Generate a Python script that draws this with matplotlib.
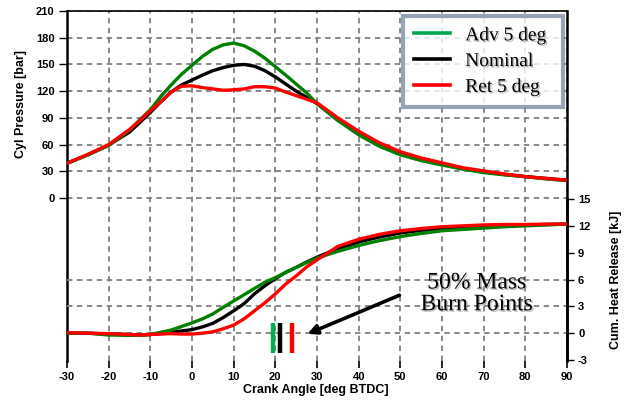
import matplotlib
matplotlib.use("Agg")
import matplotlib.pyplot as plt
import matplotlib.patheffects as pe
from matplotlib.lines import Line2D

# crank angle grid [deg BTDC]
crank = [-30, -25, -20, -15, -12.5, -10, -7.5, -5, -2.5, 0, 2.5, 5, 7.5, 10, 12.5,
         15, 17.5, 20, 22.5, 25, 27.5, 30, 35, 40, 45, 50, 55, 60, 65, 70, 75, 80, 85, 90]

# cylinder pressure [bar]
p_adv = [39, 48.5, 59, 76, 88, 99, 114, 127, 139, 149, 159, 167, 172, 174, 171,
         165, 157, 147.5, 138, 128, 118, 106, 87, 71, 58, 48.5, 42, 37, 32.5, 28.5, 26, 24, 21.5, 19.5]
p_nom = [39, 48.5, 59.5, 74, 85, 96, 108, 119, 127, 132.5, 138, 143, 146.5, 149, 150,
         148, 143, 136, 128, 120, 113, 106, 88, 73, 60, 50, 43.5, 38.5, 33, 29.5, 26.5, 24, 22, 20]
p_ret = [39, 49, 60, 77, 87, 98, 108, 119, 125.5, 126, 124, 122.5, 121, 121.5, 122.5,
         125, 125, 123.5, 119, 115, 111, 107, 90, 75, 62, 52, 45, 39.5, 34, 30.5, 27, 24, 22, 20]

# cumulative heat release [kJ]
q_adv = [0, 0, -0.2, -0.25, -0.2, -0.15, 0.1, 0.35, 0.75, 1.15, 1.6, 2.15, 2.9, 3.6, 4.3,
         5.0, 5.7, 6.2, 6.8, 7.35, 7.9, 8.4, 9.15, 9.8, 10.35, 10.8, 11.15, 11.45, 11.6, 11.75, 11.9, 12.0, 12.1, 12.2]
q_nom = [0, 0, -0.1, -0.15, -0.2, -0.15, 0, 0.1, 0.25, 0.4, 0.7, 1.1, 1.75, 2.5, 3.3,
         4.4, 5.3, 6.1, 6.8, 7.35, 7.95, 8.5, 9.45, 10.2, 10.75, 11.2, 11.5, 11.7, 11.85, 12.0, 12.05, 12.1, 12.15, 12.2]
q_ret = [0.05, 0, -0.05, -0.15, -0.2, -0.15, -0.1, -0.05, -0.1, -0.1, 0, 0.15, 0.5, 0.9, 1.6,
         2.5, 3.4, 4.4, 5.5, 6.4, 7.4, 8.2, 9.7, 10.5, 11.05, 11.45, 11.7, 11.9, 12.0, 12.1, 12.15, 12.15, 12.2, 12.2]

# 50% mass burn points [deg]
mb50 = [19.5, 21.1, 24.0]
mb50_colors = ['#00b050', 'black', '#ff0000']

labels = ['Adv 5 deg', 'Nominal', 'Ret 5 deg']
x_ticks = list(range(-30, 91, 10))
p_ticks = list(range(0, 211, 30))
q_ticks = [-3, 0, 3, 6, 9, 12, 15]

green = '#008000'
grid_kw = dict(color='#808080', linestyle=(0, (3, 2.5)), linewidth=1.3)
tick_font = dict(family='Liberation Sans', weight='bold', size=8)
label_font = dict(family='Liberation Sans', weight='bold', size=9)
shadow = [pe.withSimplePatchShadow(offset=(1, -1), shadow_rgbFace='#999999', alpha=0.7)]

fig = plt.figure(figsize=(6.3, 4.0), dpi=100)
ax = fig.add_axes([67 / 630, 1 - 361 / 400, 500 / 630, 350 / 400])
ax2 = ax.twinx()

# pressure part
ax.plot(crank, p_nom, color='black', lw=2.4, zorder=3)
ax.plot(crank, p_adv, color=green, lw=2.4, zorder=3)
ax.plot(crank, p_ret, color='#ff0000', lw=2.4, zorder=3)
ax.set_xlim(-30, 90)
ax.set_ylim(-183, 210)
ax.set_xticks(x_ticks)
ax.set_yticks(p_ticks)
ax.set_xticklabels([str(t) for t in x_ticks], **tick_font)
ax.set_yticklabels([str(t) for t in p_ticks], **tick_font)
ax.grid(True, **grid_kw)
ax.set_axisbelow(True)
ax.tick_params(axis='y', direction='out', length=6, width=1, pad=3)
ax.tick_params(axis='x', direction='out', length=5, width=1.2, pad=3)
ax.spines['bottom'].set_visible(False)
ax.spines['left'].set_linewidth(1.8)
ax.spines['right'].set_linewidth(1.8)
ax.spines['top'].set_linewidth(1.2)

# heat release part
for q in [0, 3, 6]:
    ax2.axhline(q, zorder=0, **grid_kw)
ax2.plot(crank, q_nom, color='black', lw=2.4, zorder=3)
ax2.plot(crank, q_adv, color=green, lw=2.4, zorder=3)
ax2.plot(crank, q_ret, color='#ff0000', lw=2.4, zorder=3)
ax2.set_ylim(-3.11, 36.02)
ax2.set_yticks(q_ticks)
ax2.set_yticklabels([str(t) for t in q_ticks], **tick_font)
ax2.tick_params(axis='y', direction='out', length=5, width=1, pad=3)
ax2.spines['right'].set_bounds(-3, 15)
ax2.spines['right'].set_linewidth(1.8)
for s in ['left', 'top', 'bottom']:
    ax2.spines[s].set_visible(False)

ax2.vlines(mb50, -2.2, 1.1, colors=mb50_colors, lw=3.2, zorder=4)
ax2.annotate('', xy=(27.1, -0.2), xytext=(50.4, 4.36),
             arrowprops=dict(arrowstyle='-|>', lw=2.6, color='black', mutation_scale=14))
ax2.text(68.3, 4.4, '50% Mass\nBurn Points', ha='center', va='center',
         family='Liberation Serif', size=17, linespacing=1.05, path_effects=shadow)

fig.text(21.5 / 630, 1 - 104 / 400, 'Cyl Pressure [bar]', rotation=90,
         ha='center', va='center', **label_font)
fig.text(616 / 630, 1 - 280 / 400, 'Cum. Heat Release [kJ]', rotation=90,
         ha='center', va='center', **label_font)
fig.text(316 / 630, 1 - 390 / 400, 'Crank Angle [deg BTDC]',
         ha='center', va='center', **label_font)

handles = [Line2D([], [], color=c, lw=2.6) for c in ['#00a550', 'black', '#ff0000']]
leg = ax2.legend(handles, labels, loc='upper left', mode='expand',
                 bbox_to_anchor=(403 / 630, 1 - 103 / 400, 160 / 630, 87 / 400),
                 bbox_transform=fig.transFigure,
                 prop=dict(family='Liberation Serif', size=14), frameon=True, fancybox=False,
                 handlelength=1.85, handletextpad=0.8, labelspacing=0.42, borderpad=0.55,
                 borderaxespad=0)
leg.get_frame().set_edgecolor('#7b8fa3')
leg.get_frame().set_linewidth(3)
for t in leg.get_texts():
    t.set_path_effects(shadow)
leg.set_zorder(10)

fig.savefig('out.png', dpi=100)
